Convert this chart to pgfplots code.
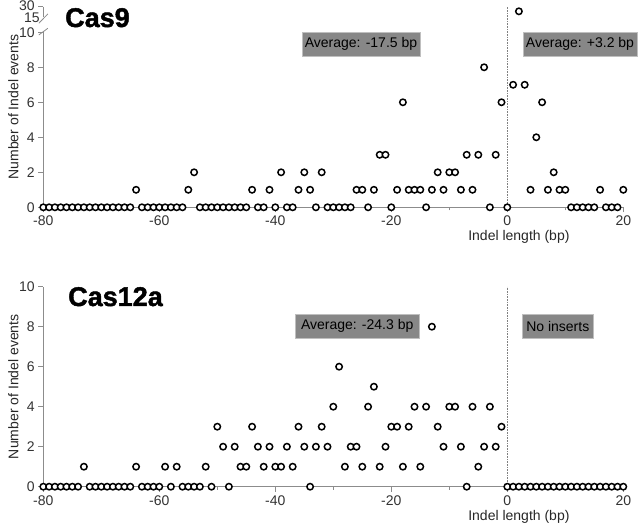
\documentclass[border=0pt]{standalone}
\usepackage{fontspec}
\setmainfont{Liberation Sans}
\newfontfamily\heavy[FakeBold=1.6]{Liberation Sans Bold}
\usepackage{pgfplots}
\pgfplotsset{compat=1.18}
\usepackage{pgfplotstable}

% Cas9: indel length vs. number of events
\pgfplotstableread{
x y
-80 0
-79 0
-78 0
-77 0
-76 0
-75 0
-74 0
-73 0
-72 0
-71 0
-70 0
-69 0
-68 0
-67 0
-66 0
-65 0
-64 1
-63 0
-62 0
-61 0
-60 0
-59 0
-58 0
-57 0
-56 0
-55 1
-54 2
-53 0
-52 0
-51 0
-50 0
-49 0
-48 0
-47 0
-46 0
-45 0
-44 1
-43 0
-42 0
-41 1
-40 0
-39 2
-38 0
-37 0
-36 1
-35 2
-34 1
-33 0
-32 2
-31 0
-30 0
-29 0
-28 0
-27 0
-26 1
-25 1
-24 0
-23 1
-22 3
-21 3
-20 0
-19 1
-18 6
-17 1
-16 1
-15 1
-14 0
-13 1
-12 2
-11 1
-10 2
-9 2
-8 1
-7 3
-6 1
-5 3
-4 8
-3 0
-2 3
-1 6
0 0
1 7
2 24
3 7
4 1
5 4
6 6
7 1
8 2
9 1
10 1
11 0
12 0
13 0
14 0
15 0
16 1
17 0
18 0
19 0
20 1
}\casnine

% Cas12a
\pgfplotstableread{
x y
-80 0
-79 0
-78 0
-77 0
-76 0
-75 0
-74 0
-73 1
-72 0
-71 0
-70 0
-69 0
-68 0
-67 0
-66 0
-65 0
-64 1
-63 0
-62 0
-61 0
-60 0
-59 1
-58 0
-57 1
-56 0
-55 0
-54 0
-53 0
-52 1
-51 0
-50 3
-49 2
-48 0
-47 2
-46 1
-45 1
-44 3
-43 2
-42 1
-41 2
-40 1
-39 1
-38 2
-37 1
-36 3
-35 2
-34 0
-33 2
-32 3
-31 2
-30 4
-29 6
-28 1
-27 2
-26 2
-25 1
-24 4
-23 5
-22 1
-21 2
-20 3
-19 3
-18 1
-17 3
-16 4
-15 1
-14 4
-13 8
-12 3
-11 2
-10 4
-9 4
-8 2
-7 0
-6 4
-5 1
-4 2
-3 4
-2 2
-1 3
0 0
1 0
2 0
3 0
4 0
5 0
6 0
7 0
8 0
9 0
10 0
11 0
12 0
13 0
14 0
15 0
16 0
17 0
18 0
19 0
20 0
}\castwelve

\pgfplotsset{
  indel/.style={
    scale only axis, width=580pt,
    xmin=-80, xmax=20, ymin=0,
    axis x line*=bottom, axis y line*=left,
    axis line style={draw=black!45, line width=0.8pt},
    tick style={draw=black!45, line width=0.8pt},
    tick align=outside,
    major tick length=5pt, minor tick length=3pt,
    xtick={-80,-60,...,20}, minor xtick={-70,-50,...,10},
    ticklabel style={font=\fontsize{14}{16}\selectfont, text=black!80},
    yticklabel style={inner sep=0.5pt, xshift=-3pt},
    /pgf/number format/assume math mode=true,
    clip=false,
    xlabel={Indel length (bp)}, ylabel={Number of Indel events},
    label style={font=\fontsize{14}{16}\selectfont, text=black!85},
    xlabel style={at={(axis cs:2,0)}, anchor=north, inner sep=0pt, yshift=-23pt},
    ylabel style={at={(rel axis cs:0,0.5)}, anchor=base, inner sep=0pt, yshift=25pt},
  },
  dots/.style={only marks, mark=*, mark size=3.2pt,
    mark options={fill=white, draw=black, line width=1.5pt}},
}

\tikzset{avg/.style={fill=black!47, draw=black!25, line width=0.8pt,
  minimum height=24pt, inner sep=0pt, font=\fontsize{14}{16}\selectfont, text=black},
  brk/.style={draw=black!45, line width=0.8pt}}

\begin{document}
\begin{tikzpicture}
\useasboundingbox (0,0) rectangle (640pt,-526pt);

% top panel: broken y axis (10 -> 15 -> 30), left edge at 43.3pt, y=0 at -207.3pt
\draw[black!50, densely dotted, line width=0.6pt] (507.3pt,-207.3pt) -- (507.3pt,-6.7pt);
\draw[brk] (43.3pt,-207.3pt) -- (43.3pt,-31.7pt);
\draw[brk] (38.8pt,-35pt) -- ++(9pt,6.7pt);
\draw[brk] (38.8pt,-23.3pt) -- ++(9pt,9.3pt);
\draw[brk] (43.3pt,-6.7pt) -- (43.3pt,-16.7pt);

\begin{axis}[indel,
    at={(43.3pt,-207.3pt)}, anchor=south west,
    height=200.6pt, ymax=30,
    y coord trafo/.code={\pgfmathparse{(#1>15)*(10.8+(#1-15)*0.044)+(#1>10)*(#1<=15)*(10+(#1-10)*0.16)+(#1<=10)*#1}},
    y coord inv trafo/.code={\pgfmathparse{(#1>10.8)*(15+(#1-10.8)/0.044)+(#1>10)*(#1<=10.8)*(10+(#1-10)/0.16)+(#1<=10)*#1}},
    y axis line style={draw=none},
    ytick={0,2,4,6,8,10,30}, yticklabels={0,2,4,6,8,10,\raisebox{1.5pt}{30}},
    extra y ticks={15}, extra y tick labels={\raisebox{-0.5pt}{15}},
    extra y tick style={major tick length=0pt},
  ]
  \addplot[dots] table[x=x, y=y] {\casnine};
\end{axis}

% bottom panel
\begin{axis}[indel,
    at={(43.3pt,-486.7pt)}, anchor=south west,
    height=200pt, ymax=10,
    ytick={0,2,...,10},
  ]
  \coordinate (b0) at (axis cs:0,0);
  \coordinate (btop) at (rel axis cs:0,1);
  \draw[black!50, densely dotted, line width=0.6pt] (b0) -- (b0 |- btop);
  \addplot[dots] table[x=x, y=y] {\castwelve};
\end{axis}

\node[anchor=base west, inner sep=0pt, font=\fontsize{27}{30}\selectfont\heavy] at (65pt,-27pt) {Cas9};
\node[anchor=base west, inner sep=0pt, font=\fontsize{27}{30}\selectfont\heavy] at (68pt,-306pt) {Cas12a};

\node[avg, minimum width=118pt] at (361pt,-44.2pt) {Average: -17.5 bp};
\node[avg, minimum width=114pt] at (580pt,-44.2pt) {Average: +3.2 bp};
\node[avg, minimum width=124pt] at (357.2pt,-326.3pt) {Average: -24.3 bp};
\node[avg, minimum width=71pt] at (557.8pt,-326.3pt) {No inserts};
\end{tikzpicture}
\end{document}
